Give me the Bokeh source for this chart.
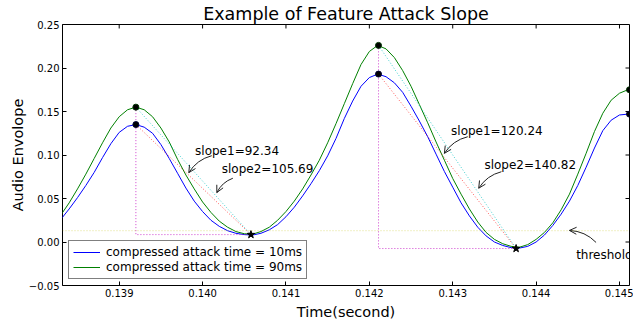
from bokeh.plotting import figure
from bokeh.models import (ColumnDataSource, Range1d, FixedTicker, Legend, LegendItem,
                          Label, Arrow, OpenHead, Span, PrintfTickFormatter)
from bokeh.embed import file_html
from bokeh.resources import INLINE

# ---------------- data ----------------
time_s = [0.1383, 0.1384, 0.1385, 0.1386, 0.1387, 0.1388, 0.1389, 0.1390, 0.1391, 0.1392,
          0.1393, 0.1394, 0.1395, 0.1396, 0.1397, 0.1398, 0.1399, 0.1400, 0.1401, 0.1402,
          0.1403, 0.1404, 0.1405, 0.1406, 0.1407, 0.1408, 0.1409, 0.1410, 0.1411, 0.1412,
          0.1413, 0.1414, 0.1415, 0.1416, 0.1417, 0.1418, 0.1419, 0.1420, 0.1421, 0.1422,
          0.1423, 0.1424, 0.1425, 0.1426, 0.1427, 0.1428, 0.1429, 0.1430, 0.1431, 0.1432,
          0.1433, 0.1434, 0.1435, 0.1436, 0.1437, 0.1438, 0.1439, 0.1440, 0.1441, 0.1442,
          0.1443, 0.1444, 0.1445, 0.1446, 0.1447, 0.1448, 0.1449, 0.1450, 0.1451, 0.1452]

env_10ms = [0.026, 0.038, 0.051, 0.065, 0.080, 0.097, 0.113, 0.126, 0.133, 0.135,
            0.132, 0.125, 0.112, 0.096, 0.079, 0.062, 0.047, 0.035, 0.025, 0.018,
            0.013, 0.010, 0.0085, 0.008, 0.010, 0.014, 0.020, 0.029, 0.040, 0.053,
            0.067, 0.082, 0.099, 0.119, 0.142, 0.162, 0.179, 0.189, 0.193, 0.190,
            0.183, 0.172, 0.156, 0.139, 0.121, 0.101, 0.081, 0.063, 0.045, 0.030,
            0.017, 0.007, 0.000, -0.004, -0.0065, -0.007, -0.005, 0.000, 0.008, 0.019,
            0.032, 0.047, 0.065, 0.086, 0.108, 0.128, 0.140, 0.146, 0.147, 0.146]

env_90ms = [0.031, 0.045, 0.061, 0.078, 0.096, 0.114, 0.131, 0.144, 0.152, 0.155,
            0.152, 0.144, 0.131, 0.115, 0.095, 0.077, 0.061, 0.046, 0.034, 0.024,
            0.017, 0.012, 0.0095, 0.009, 0.012, 0.017, 0.025, 0.035, 0.047, 0.061,
            0.077, 0.094, 0.114, 0.136, 0.159, 0.182, 0.204, 0.219, 0.226, 0.222,
            0.212, 0.197, 0.179, 0.158, 0.137, 0.115, 0.094, 0.073, 0.055, 0.038,
            0.023, 0.011, 0.003, -0.002, -0.005, -0.006, -0.003, 0.003, 0.011, 0.022,
            0.037, 0.055, 0.078, 0.102, 0.127, 0.148, 0.163, 0.171, 0.175, 0.175]

series_labels = ["compressed attack time = 10ms", "compressed attack time = 90ms"]

peak_t = [0.13920, 0.14211, 0.14512]
peak_10ms = [0.135, 0.193, 0.147]
peak_90ms = [0.155, 0.226, 0.175]
trough_t = [0.14058, 0.14376]
trough_v = [0.0085, -0.0075]
threshold = 0.013

ann_text = ["slope1=92.34", "slope2=105.69", "slope1=120.24", "slope2=140.82", "threshold"]
ann_text_t = [0.13991, 0.14023, 0.14298, 0.14338, 0.14448]
ann_text_v = [0.105, 0.0836, 0.1274, 0.0885, -0.0145]
ann_tail_t = [0.14011, 0.140363, 0.14318, 0.143584, 0.144719]
ann_tail_v = [0.0992, 0.0733, 0.121, 0.0808, -0.0005]
ann_tip_t = [0.139835, 0.140171, 0.1429, 0.143312, 0.1444]
ann_tip_v = [0.0797, 0.0568, 0.1019, 0.0618, 0.0133]

x_ticks = [0.139, 0.140, 0.141, 0.142, 0.143, 0.144, 0.145]
x_tick_labels = ["0.139", "0.140", "0.141", "0.142", "0.143", "0.144", "0.145"]
y_ticks = [-0.05, 0.0, 0.05, 0.10, 0.15, 0.20, 0.25]
y_tick_labels = ["\u22120.05", "0.00", "0.05", "0.10", "0.15", "0.20", "0.25"]

x_lim = (0.13832, 0.14512)
y_lim = (-0.05, 0.25)

FONT = "DejaVu Sans"
FRAME_W, FRAME_H = 567.0, 262.0

# ---------------- figure ----------------
p = figure(width=633, height=322, x_range=Range1d(*x_lim), y_range=Range1d(*y_lim),
           output_backend="svg", toolbar_location=None,
           min_border_left=62, min_border_right=4, min_border_top=24, min_border_bottom=36,
           background_fill_color="white", border_fill_color="white")
p.grid.visible = False
p.outline_line_color = "black"
p.outline_line_width = 1

p.title.text = "Example of Feature Attack Slope"
p.title.align = "center"
p.title.text_font = FONT
p.title.text_font_size = "17.5px"
p.title.text_font_style = "normal"
p.title.text_color = "black"
p.title.standoff = 2

for ax, ticks, labels, fmt, name in ((p.xaxis[0], x_ticks, x_tick_labels, "%.3f", "Time(second)"),
                                     (p.yaxis[0], y_ticks, y_tick_labels, "%.2f", "Audio Envolope")):
    ax.ticker = FixedTicker(ticks=ticks)
    ax.formatter = PrintfTickFormatter(format=fmt)
    ax.major_label_overrides = dict(zip(ticks, labels))
    ax.major_tick_in = 4
    ax.major_tick_out = 0
    ax.minor_tick_in = 0
    ax.minor_tick_out = 0
    ax.axis_line_color = None
    ax.major_tick_line_color = "black"
    ax.major_label_text_font = FONT
    ax.major_label_text_font_size = "10px"
    ax.major_label_text_color = "black"
    ax.major_label_standoff = 3
    ax.axis_label = name
    ax.axis_label_text_font = FONT
    ax.axis_label_text_font_size = "14.5px"
    ax.axis_label_text_font_style = "normal"
    ax.axis_label_text_color = "black"
p.xaxis[0].axis_label_standoff = 4
p.yaxis[0].axis_label_standoff = 0

# inward ticks on the top and right edges of the frame
tick_dx = 4.0 * (x_lim[1] - x_lim[0]) / FRAME_W
tick_dy = 4.0 * (y_lim[1] - y_lim[0]) / FRAME_H
p.segment(x0=x_ticks, y0=[y_lim[1]] * len(x_ticks), x1=x_ticks, y1=[y_lim[1] - tick_dy] * len(x_ticks),
          line_color="black", line_width=1)
p.segment(x0=[x_lim[1]] * len(y_ticks), y0=y_ticks, x1=[x_lim[1] - tick_dx] * len(y_ticks), y1=y_ticks,
          line_color="black", line_width=1)

# ---------------- curves ----------------
src = ColumnDataSource(dict(t=time_s, b=env_10ms, g=env_90ms))
rb = p.line("t", "b", source=src, line_color="#0000ff", line_width=1)
rg = p.line("t", "g", source=src, line_color="#008000", line_width=1)

# threshold
p.add_layout(Span(location=threshold, dimension="width", line_color="#bfbf00",
                  line_alpha=0.45, line_dash="1 2", line_width=1))

# slope lines
red_xs = [[peak_t[i], trough_t[i]] for i in range(2)]
red_ys = [[peak_10ms[i], trough_v[i]] for i in range(2)]
cyan_ys = [[peak_90ms[i], trough_v[i]] for i in range(2)]
mag_xs = [[peak_t[i], peak_t[i], trough_t[i]] for i in range(2)]
mag_ys = [[peak_90ms[i], trough_v[i], trough_v[i]] for i in range(2)]
p.multi_line(red_xs, red_ys, line_color="#ff0000", line_alpha=0.65, line_dash="1 2", line_width=1)
p.multi_line(red_xs, cyan_ys, line_color="#00bfbf", line_alpha=0.75, line_dash="1 2", line_width=1)
p.multi_line(mag_xs, mag_ys, line_color="#bf00bf", line_alpha=0.75, line_dash="1 2", line_width=1)

# markers
p.scatter(peak_t, peak_10ms, marker="circle", size=6, fill_color="black", line_color="#000033")
p.scatter(peak_t, peak_90ms, marker="circle", size=6, fill_color="black", line_color="#003300")
p.scatter(trough_t, trough_v, marker="star", size=8, fill_color="black", line_color="black")

# ---------------- annotations ----------------
sx = FRAME_W / (x_lim[1] - x_lim[0])
sy = FRAME_H / (y_lim[1] - y_lim[0])
rad = 0.2
cx, cy = [], []
for i in range(len(ann_text)):
    ax_, ay_ = ann_tail_t[i] * sx, ann_tail_v[i] * sy
    bx, by = ann_tip_t[i] * sx, ann_tip_v[i] * sy
    dx, dy = bx - ax_, by - ay_
    cx.append(((ax_ + bx) / 2 + rad * dy) / sx)
    cy.append(((ay_ + by) / 2 - rad * dx) / sy)

asrc = ColumnDataSource(dict(x0=ann_tail_t, y0=ann_tail_v, x1=ann_tip_t, y1=ann_tip_v, cx=cx, cy=cy))
p.quadratic(x0="x0", y0="y0", x1="x1", y1="y1", cx="cx", cy="cy", source=asrc,
            line_color="#222222", line_width=1)
p.add_layout(Arrow(end=OpenHead(size=7, line_color="#222222", line_width=1),
                   x_start="cx", y_start="cy", x_end="x1", y_end="y1",
                   source=asrc, line_alpha=0))

for i in range(len(ann_text)):
    p.add_layout(Label(x=ann_text_t[i], y=ann_text_v[i], text=ann_text[i],
                       text_font=FONT, text_font_size="12px", text_color="black",
                       text_align="left", text_baseline="alphabetic"))

# ---------------- legend ----------------
legend = Legend(items=[LegendItem(label=series_labels[0], renderers=[rb]),
                       LegendItem(label=series_labels[1], renderers=[rg])],
                location="bottom_left", border_line_color="black", border_line_width=1,
                background_fill_color="white", background_fill_alpha=1,
                label_text_font=FONT, label_text_font_size="12px", label_text_color="black",
                padding=4, spacing=1, glyph_width=27, glyph_height=12,
                label_height=12, label_standoff=6, margin=6)
p.add_layout(legend)

open("out.html", "w").write(file_html(p, INLINE))
